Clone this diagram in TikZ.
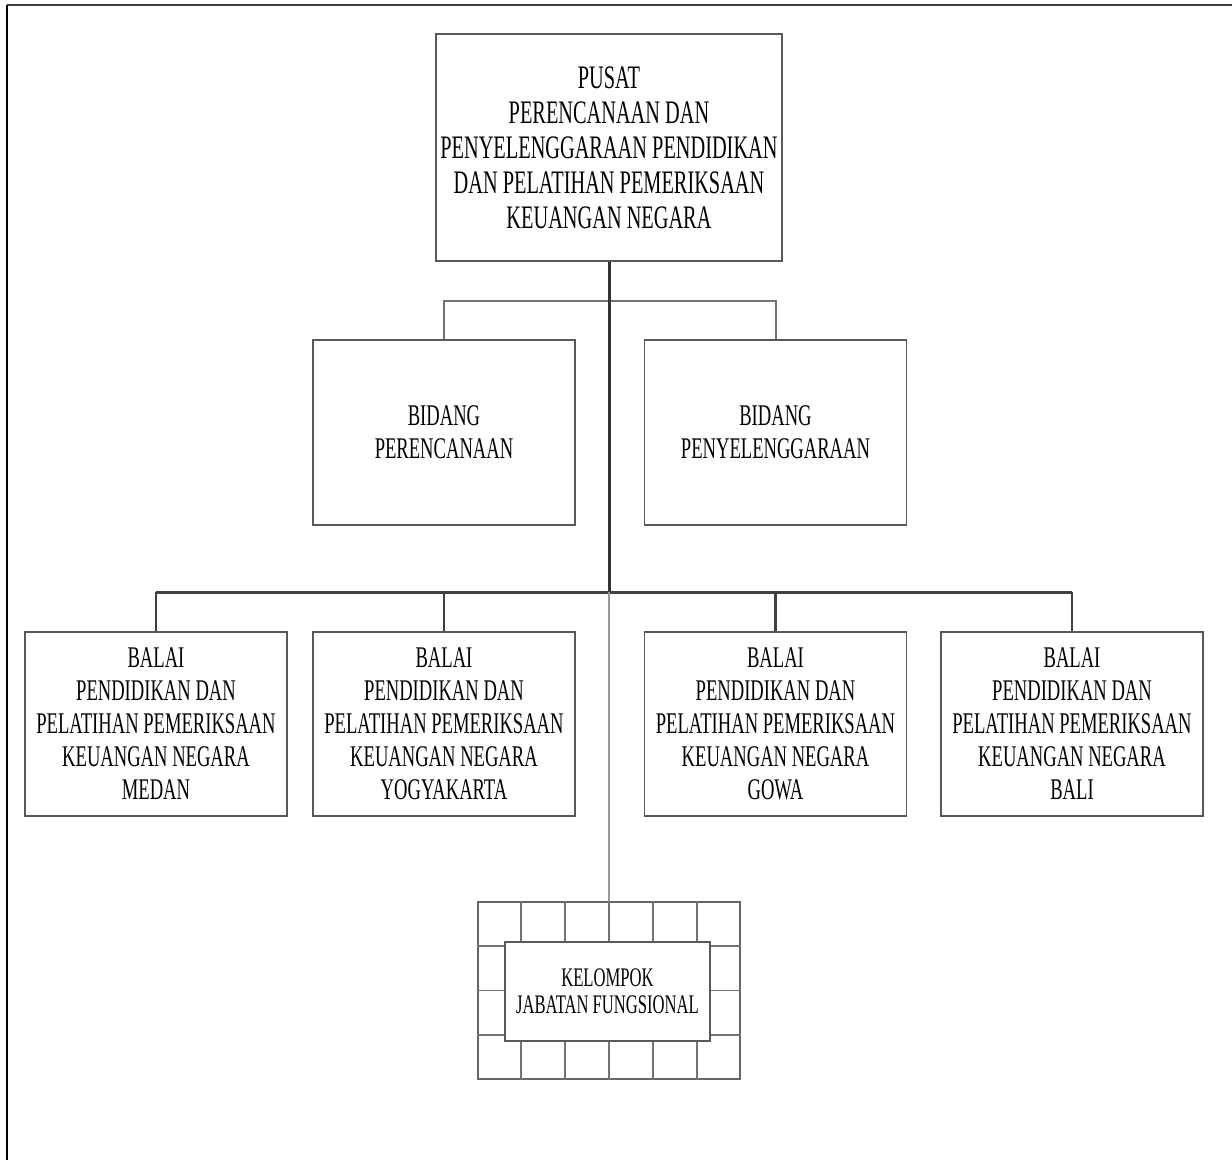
\documentclass[tikz,border=0pt]{standalone}
\usepackage{fontspec}
\setmainfont[FakeStretch=0.62]{Liberation Serif}
\usepackage{tikz}
\usetikzlibrary{calc}

\tikzset{
  unitbox/.style={draw=black!65, line width=0.9pt, fill=white, inner sep=0pt,
    align=center, font=\fontsize{15}{16.5}\selectfont,
    minimum width=131pt, minimum height=92pt},
  stemline/.style={draw=black!80, line width=1.5pt},
  busline/.style={draw=black!75, line width=1.5pt},
  dropline/.style={draw=black!75, line width=1.1pt},
  branchline/.style={draw=black!55, line width=1pt},
  faintline/.style={draw=black!40, line width=1pt},
  cellline/.style={draw=black!55, line width=0.8pt}
}

\begin{document}
\begin{tikzpicture}[x=0.5pt,y=-0.5pt]

\useasboundingbox (0,0) rectangle (1232,1160);

% ------------------------------------------------------------
% Page frame (top and left edges only)
% ------------------------------------------------------------
\draw[black!75, line width=1pt] (7,5) -- (1232,5);
\draw[black, line width=1pt] (7,5) -- (7,1160);

% ------------------------------------------------------------
% Head unit
% ------------------------------------------------------------
\node[unitbox, minimum width=173pt, minimum height=113.5pt,
      font=\fontsize{16.4}{17.5}\selectfont] (pusat) at (609,147.5)
{PUSAT\\PERENCANAAN DAN\\PENYELENGGARAAN PENDIDIKAN\\DAN PELATIHAN PEMERIKSAAN\\KEUANGAN NEGARA};

% ------------------------------------------------------------
% Bidang (two divisions)
% ------------------------------------------------------------
\node[unitbox, minimum height=92.5pt] (perencanaan) at (444,432.5)
{BIDANG\\PERENCANAAN};
\node[unitbox, minimum height=92.5pt] (penyelenggaraan) at (775.5,432.5)
{BIDANG\\PENYELENGGARAAN};

% ------------------------------------------------------------
% Balai (four regional offices)
% ------------------------------------------------------------
\node[unitbox] (medan) at (156,724)
{BALAI\\PENDIDIKAN DAN\\PELATIHAN PEMERIKSAAN\\KEUANGAN NEGARA\\MEDAN};
\node[unitbox] (yogya) at (444,724)
{BALAI\\PENDIDIKAN DAN\\PELATIHAN PEMERIKSAAN\\KEUANGAN NEGARA\\YOGYAKARTA};
\node[unitbox] (gowa) at (775.5,724)
{BALAI\\PENDIDIKAN DAN\\PELATIHAN PEMERIKSAAN\\KEUANGAN NEGARA\\GOWA};
\node[unitbox] (bali) at (1072,724)
{BALAI\\PENDIDIKAN DAN\\PELATIHAN PEMERIKSAAN\\KEUANGAN NEGARA\\BALI};

% ------------------------------------------------------------
% Functional group: tiled frame with inner box
% ------------------------------------------------------------
\node[unitbox, draw=black!60, minimum height=88.5pt] (kisi) at (609,990.5) {};
\foreach \c in {1,...,5} {
  \draw[cellline] ($(kisi.north west)!\c/6!(kisi.north east)$)
               -- ($(kisi.south west)!\c/6!(kisi.south east)$);
}
\foreach \r in {1,...,3} {
  \draw[cellline] ($(kisi.north west)!\r/4!(kisi.south west)$)
               -- ($(kisi.north east)!\r/4!(kisi.south east)$);
}
\node[unitbox, minimum width=102.5pt, minimum height=49.5pt,
      font=\fontsize{13.4}{13.5}\selectfont] (kelompok) at (607.5,991.5)
{KELOMPOK\\JABATAN FUNGSIONAL};

% ------------------------------------------------------------
% Connectors
% ------------------------------------------------------------
\coordinate (cab) at (pusat.south |- 0,301);
\coordinate (bus) at (pusat.south |- 0,592);

% main stem and branch to the two Bidang
\draw[branchline] (perencanaan.north) |- (cab) -| (penyelenggaraan.north);
\draw[stemline] (pusat.south) -- (bus);

% bus to the Balai
\draw[busline] (medan.north |- bus) -- (bali.north |- bus);
\foreach \b in {medan, yogya, gowa, bali} {
  \draw[dropline] (\b.north) -- (\b.north |- bus);
}

% faint line down to the functional group
\draw[faintline] (bus) -- (kisi.north);

\end{tikzpicture}
\end{document}
